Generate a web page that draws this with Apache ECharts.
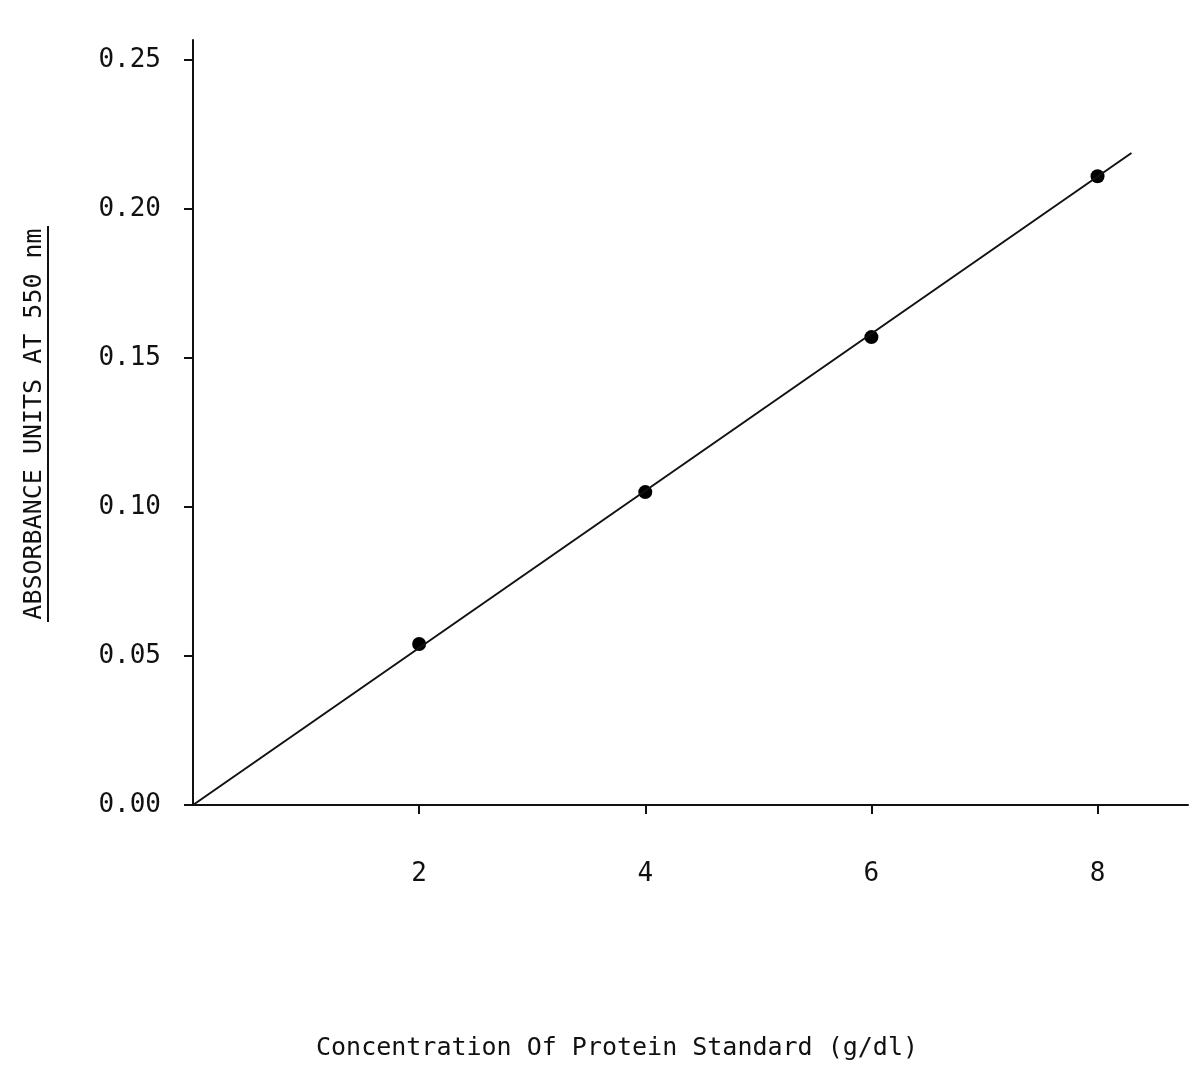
<!DOCTYPE html>
<html>
<head>
<meta charset="utf-8">
<script src="https://cdn.jsdelivr.net/npm/echarts@6/dist/echarts.min.js"></script>
<style>html,body{margin:0;padding:0;background:#fff;}#c{width:1193px;height:1078px;}</style>
</head>
<body>
<div id="c"></div>
<script>
// Data
var concentration = [2, 4, 6, 8];
var absorbance = [0.054, 0.105, 0.157, 0.211];
var fitLineX = [0, 8.3];
var fitLineY = [0, 0.2188];
var xTickValues = [2, 4, 6, 8];
var yTickValues = [0, 0.05, 0.10, 0.15, 0.20, 0.25];
var xTitle = 'Concentration Of Protein Standard (g/dl)';
var yTitle = 'ABSORBANCE UNITS AT 550 nm';

var font = 'DejaVu Sans Mono';
var chart = echarts.init(document.getElementById('c'));
chart.setOption({
  backgroundColor: '#fff',
  animation: false,
  grid: {left: 193, right: 5, top: 40, bottom: 273},
  xAxis: {
    type: 'value', min: 0, max: 8.8,
    axisLine: {show: true, lineStyle: {color: '#111', width: 2}},
    axisTick: {show: true, customValues: xTickValues, length: 9, lineStyle: {color: '#111', width: 2}},
    axisLabel: {customValues: xTickValues, margin: 56, fontFamily: font, fontSize: 26, color: '#111'},
    splitLine: {show: false}
  },
  yAxis: {
    type: 'value', min: 0, max: 0.2567,
    axisLine: {show: true, lineStyle: {color: '#111', width: 2}},
    axisTick: {show: true, customValues: yTickValues, length: 9, lineStyle: {color: '#111', width: 2}},
    axisLabel: {customValues: yTickValues, margin: 32, fontFamily: font, fontSize: 26, color: '#111',
      formatter: function (v) { return v.toFixed(2); }},
    splitLine: {show: false}
  },
  graphic: [
    {type: 'text', x: 34, y: 424, rotation: Math.PI / 2,
      style: {text: yTitle, font: '25px "DejaVu Sans Mono"', fill: '#111', align: 'center', verticalAlign: 'middle'}},
    {type: 'line', shape: {x1: 48, y1: 226, x2: 48, y2: 622}, style: {stroke: '#111', lineWidth: 2}},
    {type: 'text', x: 617, y: 1048,
      style: {text: xTitle, font: '25px "DejaVu Sans Mono"', fill: '#111', align: 'center', verticalAlign: 'middle'}}
  ],
  series: [
    {type: 'line', data: fitLineX.map(function (x, i) { return [x, fitLineY[i]]; }),
      showSymbol: false, symbol: 'none', lineStyle: {color: '#111', width: 2}},
    {type: 'scatter', data: concentration.map(function (x, i) { return [x, absorbance[i]]; }),
      symbolSize: 14, itemStyle: {color: '#000', opacity: 1}}
  ]
});
</script>
</body>
</html>
